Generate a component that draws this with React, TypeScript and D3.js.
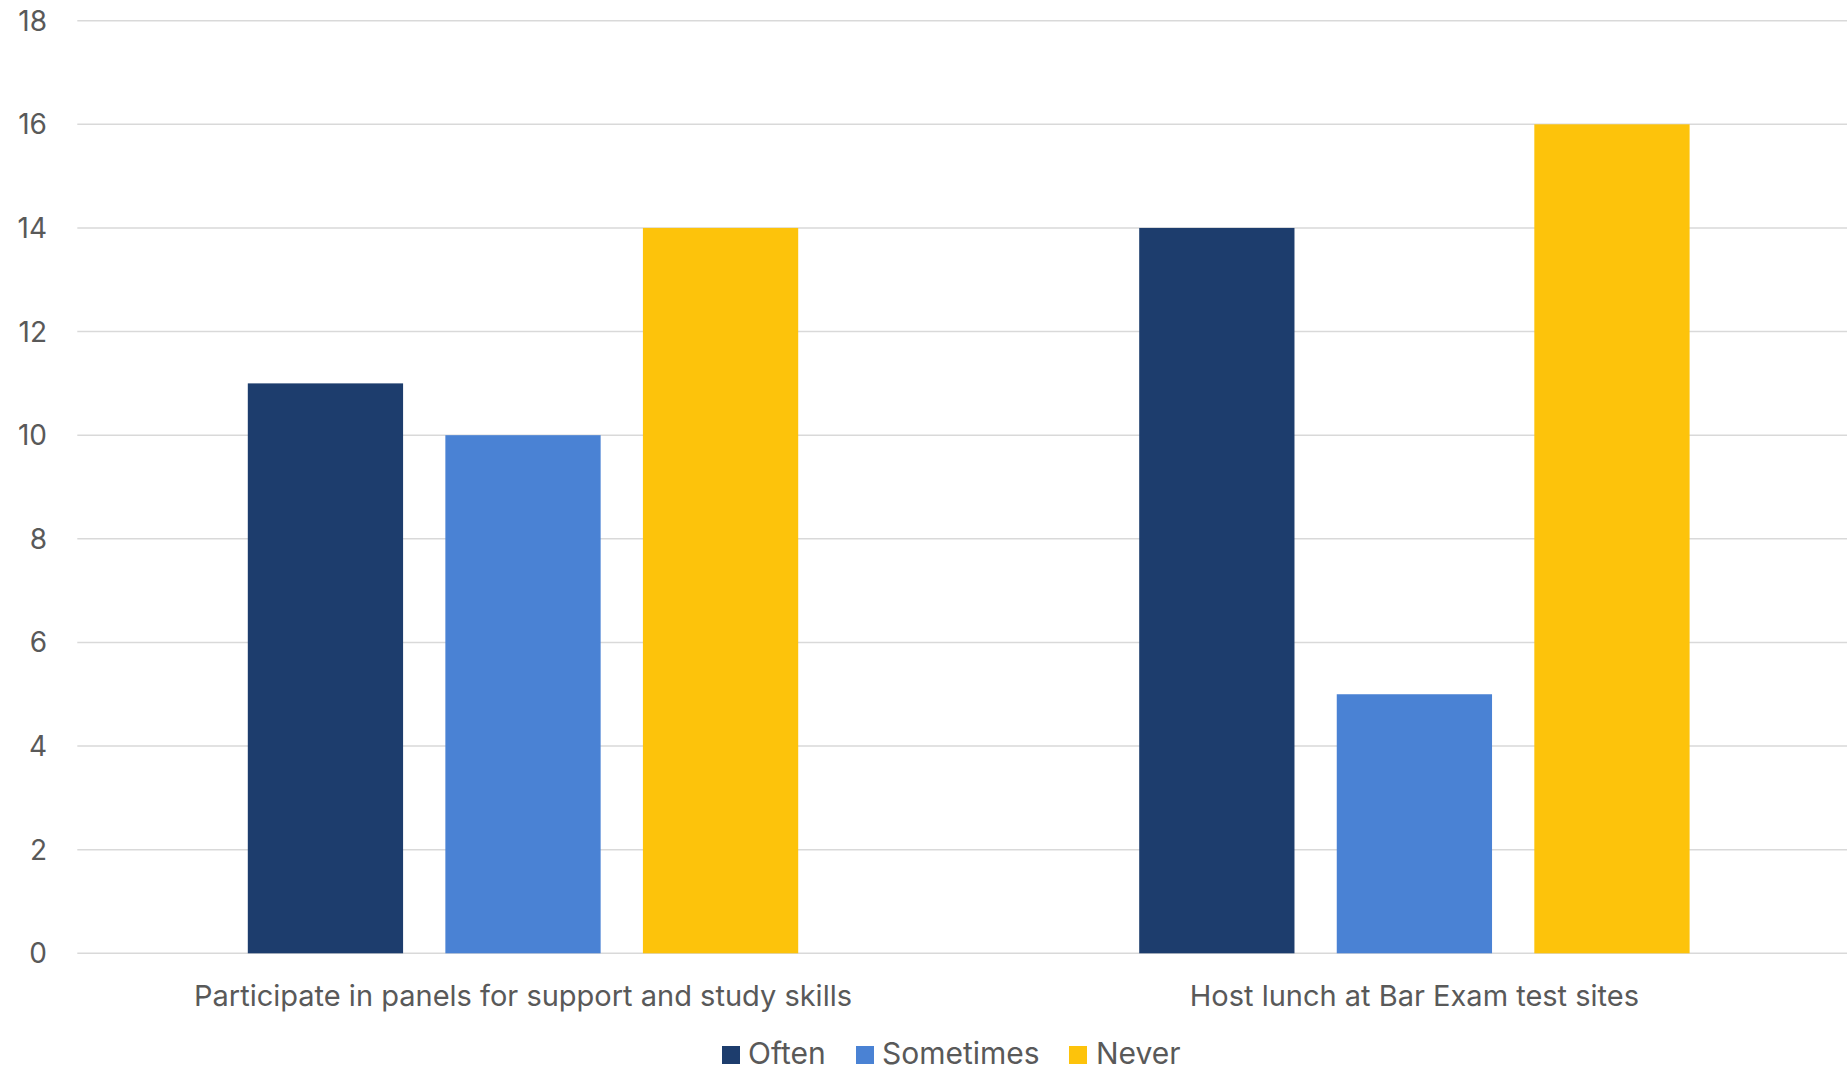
import React from "react";
import * as d3 from "d3";

const categories = [
  "Participate in panels for support and study skills",
  "Host lunch at Bar Exam test sites",
];
const seriesNames = ["Often", "Sometimes", "Never"];
const often = [11, 14];
const sometimes = [10, 5];
const never = [14, 16];
const yTicks = [0, 2, 4, 6, 8, 10, 12, 14, 16, 18];
const colors = ["#1d3d6d", "#4a82d4", "#fdc30b"];

const W = 1847;
const H = 1071;
const FONT = "Inter, 'Noto Sans', sans-serif";
const TEXT = "#595959";

export default function App() {
  const seriesValues = [often, sometimes, never];
  const x0 = d3.scaleBand<string>().domain(categories).range([77.3, 1860.1]).paddingInner(0).paddingOuter(0);
  const bw = x0.bandwidth();
  const x1 = d3.scaleBand<string>().domain(seriesNames).range([170.5, bw - 170.5]).paddingInner(0.214).paddingOuter(0);
  const y = d3.scaleLinear().domain([0, 18]).range([953.3, 20.7]);

  const legendItems = [
    { name: "Often", sx: 722, tx: 748 },
    { name: "Sometimes", sx: 856, tx: 882 },
    { name: "Never", sx: 1069, tx: 1096 },
  ];

  return (
    <svg width={W} height={H} style={{ position: "absolute", left: 0, top: 0, background: "#fff" }} fontFamily={FONT}>
      <rect x={0} y={0} width={W} height={H} fill="#fff" />
      {yTicks.map((t) => (
        <g key={t}>
          <line x1={77.3} x2={1860} y1={y(t)} y2={y(t)} stroke="#d9d9d9" strokeWidth={1.6} />
          <text x={47} y={y(t)} textAnchor="end" dominantBaseline="central" fontSize={28} fill={TEXT}>
            {t}
          </text>
        </g>
      ))}
      {categories.map((c, ci) => (
        <g key={c} transform={`translate(${x0(c)},0)`}>
          {seriesNames.map((s, si) => {
            const v = seriesValues[si][ci];
            return (
              <rect
                key={s}
                x={x1(s)}
                y={y(v)}
                width={x1.bandwidth()}
                height={y(0) - y(v)}
                fill={colors[si]}
              />
            );
          })}
          <text x={bw / 2} y={1006} textAnchor="middle" fontSize={29} fill={TEXT}>
            {c}
          </text>
        </g>
      ))}
      {legendItems.map((l, i) => (
        <g key={l.name}>
          <rect x={l.sx} y={1046} width={18} height={18} fill={colors[i]} />
          <text x={l.tx} y={1064} fontSize={30} fill={TEXT}>
            {l.name}
          </text>
        </g>
      ))}
    </svg>
  );
}
